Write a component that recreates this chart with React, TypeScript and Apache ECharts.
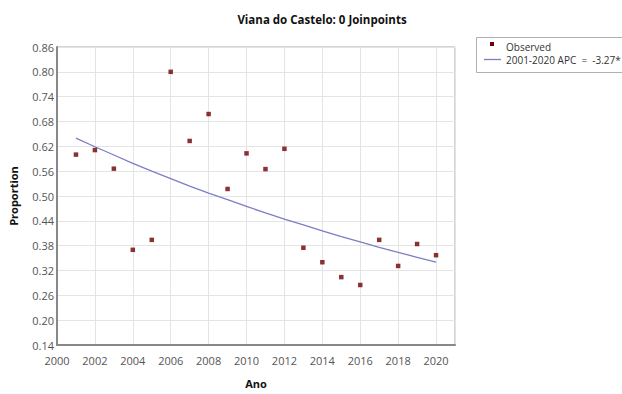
import React, { useEffect, useRef } from "react";
import * as echarts from "echarts";

const years = [2001, 2002, 2003, 2004, 2005, 2006, 2007, 2008, 2009, 2010, 2011, 2012, 2013, 2014, 2015, 2016, 2017, 2018, 2019, 2020];
const observed = [0.600, 0.611, 0.566, 0.370, 0.394, 0.800, 0.633, 0.698, 0.517, 0.603, 0.565, 0.614, 0.375, 0.340, 0.304, 0.285, 0.394, 0.331, 0.384, 0.357];
const fitted = [0.640, 0.619, 0.599, 0.579, 0.560, 0.542, 0.524, 0.507, 0.491, 0.475, 0.459, 0.444, 0.430, 0.416, 0.402, 0.389, 0.376, 0.364, 0.352, 0.340];
const titleText = "Viana do Castelo: 0 Joinpoints";
const legendObserved = "Observed";
const legendFit = "2001-2020 APC  =  -3.27*";

const FONT = "'Open Sans', 'Noto Sans', sans-serif";

export default function App() {
  const ref = useRef<HTMLDivElement>(null);
  useEffect(() => {
    if (!ref.current) return;
    const chart = echarts.init(ref.current, undefined, { renderer: "svg" });
    chart.setOption({
      animation: false,
      backgroundColor: "#ffffff",
      textStyle: { fontFamily: FONT, color: "#555555" },
      title: {
        text: titleText,
        left: 317,
        top: 8,
        textAlign: "center",
        textStyle: { fontFamily: FONT, fontSize: 11.5, fontWeight: "bold", color: "#111" },
      },
      grid: {
        left: 54,
        right: 167,
        top: 47,
        bottom: 45,
        show: true,
        borderColor: "#a8a8a8",
        borderWidth: 1,
      },
      xAxis: {
        type: "value",
        min: 2000,
        max: 2021,
        interval: 2,
        name: "Ano",
        nameLocation: "middle",
        nameGap: 33,
        nameTextStyle: { fontFamily: FONT, fontSize: 11, fontWeight: "bold", color: "#111" },
        axisLine: { show: true, onZero: false, lineStyle: { color: "#888", width: 2 } },
        axisTick: { show: false },
        axisLabel: {
          fontFamily: FONT,
          fontSize: 11,
          color: "#555555",
          margin: 10,
          showMaxLabel: false,
          formatter: (v: number) => (v > 2020 ? "" : String(Math.round(v))),
        },
        splitLine: { show: true, lineStyle: { color: "#e4e4e4", width: 1 } },
      },
      yAxis: {
        type: "value",
        min: 0.14,
        max: 0.86,
        interval: 0.06,
        name: "Proportion",
        nameLocation: "middle",
        nameGap: 38,
        nameRotate: 90,
        nameTextStyle: { fontFamily: FONT, fontSize: 11, fontWeight: "bold", color: "#111" },
        axisLine: { show: true, lineStyle: { color: "#888", width: 2 } },
        axisTick: { show: false },
        axisLabel: {
          fontFamily: FONT,
          fontSize: 11,
          color: "#555555",
          margin: 3,
          formatter: (v: number) => v.toFixed(2),
        },
        splitLine: { show: true, lineStyle: { color: "#e4e4e4", width: 1 } },
      },
      series: [
        {
          name: legendFit,
          type: "line",
          data: years.map((y, i) => [y, fitted[i]]),
          showSymbol: false,
          smooth: false,
          lineStyle: { color: "#7d7dc6", width: 1.3 },
          z: 2,
        },
        {
          name: legendObserved,
          type: "scatter",
          data: years.map((y, i) => [y, observed[i]]),
          symbol: "rect",
          symbolSize: 4.5,
          itemStyle: { color: "#6e0000" },
          z: 3,
        },
      ],
      graphic: [
        {
          type: "rect",
          shape: { x: 476.5, y: 37.5, width: 160, height: 35 },
          style: { fill: "#fff", stroke: "#b0b0b0", lineWidth: 1 },
        },
        {
          type: "rect",
          shape: { x: 490, y: 42, width: 4, height: 4 },
          style: { fill: "#6e0000" },
        },
        {
          type: "text",
          x: 506,
          y: 47,
          style: { text: legendObserved, fontFamily: FONT, fontSize: 10, fill: "#333", verticalAlign: "middle" },
        },
        {
          type: "line",
          shape: { x1: 484, y1: 59.5, x2: 501, y2: 59.5 },
          style: { stroke: "#7d7dc6", lineWidth: 1.3 },
        },
        {
          type: "text",
          x: 506,
          y: 60,
          style: { text: legendFit, fontFamily: FONT, fontSize: 10, fill: "#333", verticalAlign: "middle" },
        },
      ],
    });
    return () => chart.dispose();
  }, []);
  return <div ref={ref} style={{ width: 622, height: 394, position: "absolute", left: 0, top: 0 }} />;
}
